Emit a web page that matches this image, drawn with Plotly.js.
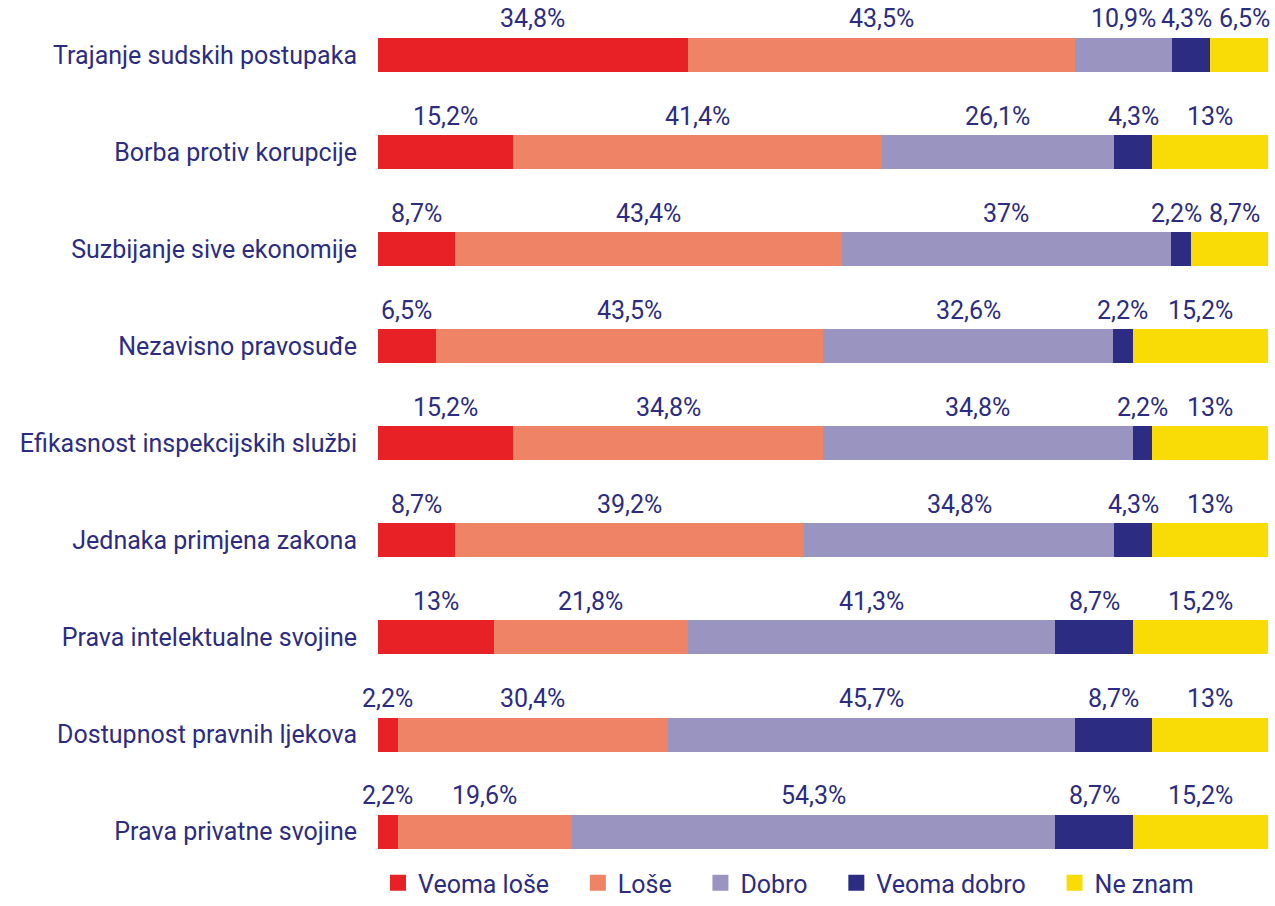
<!DOCTYPE html>
<html><head><meta charset="utf-8">
<script src="https://cdn.plot.ly/plotly-3.0.1.min.js"></script>
<style>html,body{margin:0;padding:0;background:#fff}#chart{width:1275px;height:906px}</style>
</head><body><div id="chart"></div>
<script>
const categories = ["Trajanje sudskih postupaka","Borba protiv korupcije","Suzbijanje sive ekonomije","Nezavisno pravosuđe","Efikasnost inspekcijskih službi","Jednaka primjena zakona","Prava intelektualne svojine","Dostupnost pravnih ljekova","Prava privatne svojine"];
const seriesNames = ["Veoma loše","Loše","Dobro","Veoma dobro","Ne znam"];
const veomaLose  = [34.8,15.2,8.7,6.5,15.2,8.7,13,2.2,2.2];
const lose       = [43.5,41.4,43.4,43.5,34.8,39.2,21.8,30.4,19.6];
const dobro      = [10.9,26.1,37,32.6,34.8,34.8,41.3,45.7,54.3];
const veomaDobro = [4.3,4.3,2.2,2.2,2.2,4.3,8.7,8.7,8.7];
const neZnam     = [6.5,13,8.7,15.2,13,13,15.2,13,15.2];
const colors = ["#e82127","#ef8366","#9a94c1","#2c2c82","#f9dc06"];
const series = [veomaLose, lose, dobro, veomaDobro, neZnam];
const textColor = "#2c2c82";
const fontFam = "Roboto, 'Open Sans', sans-serif";
const FS = 25;
const pad = "\u00a0\u00a0\u00a0\u2009";

const W = 1275, H = 906, ML = 378, MR = 7;
const plotW = W - ML - MR;

const traces = series.map((vals,i)=>({
  type:'bar', orientation:'h', name:seriesNames[i], legendgroup:'g'+i, showlegend:false,
  y:categories, x:vals, marker:{color:colors[i], line:{width:0}},
  hoverinfo:'x+name'
}));
series.forEach((vals,i)=>{
  traces.push({type:'scatter', mode:'markers', name:seriesNames[i] + (i<series.length-1?pad:''), legendgroup:'g'+i,
    x:[null], y:[null], marker:{symbol:'square', size:16, color:colors[i]}, showlegend:true, hoverinfo:'skip'});
});

const fmt = v => String(v).replace('.', ',') + '%';
const estW = s => s.length * FS * 0.52;
const annotations = [];
categories.forEach((c,r)=>{
  let cum = 0;
  const labs = [];
  series.forEach((vals,i)=>{
    const v = vals[r];
    const t = fmt(v);
    labs.push({x:cum+v/2, t, px:(cum+v/2)/100*plotW, w:estW(t), shift:0});
    cum += v;
  });
  for (let k=1;k<labs.length;k++){
    const a=labs[k-1], b=labs[k];
    const gap = (b.px+b.shift - b.w/2) - (a.px+a.shift + a.w/2);
    if (gap < 6){ const d=(6-gap)/2; a.shift-=d; b.shift+=d; }
  }
  const last = labs[labs.length-1];
  const over = last.px+last.shift+last.w/2 - (plotW+4);
  if (over>0){ labs.forEach(l=>{ if(l.shift!==0 || l===last) l.shift-=over; }); }
  labs.forEach(l=>annotations.push({x:l.x, y:c, xref:'x', yref:'y', text:l.t, showarrow:false,
      yshift:36, xshift:l.shift, font:{family:fontFam, size:FS, color:textColor}}));
});

const layout = {
  width:W, height:H,
  margin:{l:ML, r:MR, t:7, b:0},
  barmode:'stack', bargap:0.65,
  paper_bgcolor:'#fff', plot_bgcolor:'#fff',
  xaxis:{range:[0,100], showgrid:false, zeroline:false, showticklabels:false, fixedrange:true},
  yaxis:{range:[8.766,-0.494], type:'category', showgrid:false, zeroline:false, ticks:'', ticklen:0,
         tickfont:{family:fontFam, size:FS, color:textColor}, automargin:false, ticklabelstandoff:20},
  showlegend:true,
  legend:{orientation:'h', x:0, xanchor:'left', y:0, yanchor:'bottom',
          font:{family:fontFam, size:FS, color:textColor}, traceorder:'normal',
          itemwidth:30, bgcolor:'rgba(0,0,0,0)'},
  annotations:annotations
};
Plotly.newPlot('chart', traces, layout, {displayModeBar:false, staticPlot:true});
</script></body></html>
